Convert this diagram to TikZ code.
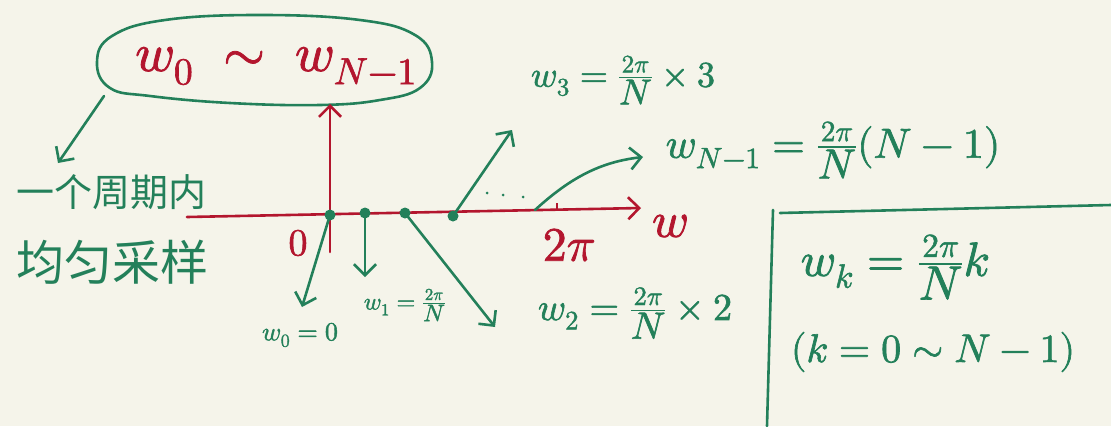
\documentclass[tikz,border=0pt]{standalone}
\usepackage{amsmath}
\usepackage{fontspec}
\usepackage{unicode-math}
\setmathfont{Latin Modern Math}[FakeBold=1.6]
\newfontfamily\cjk{Noto Sans CJK SC}
\usetikzlibrary{arrows.meta}
\definecolor{bg}{HTML}{F5F4EA}
\definecolor{gr}{HTML}{23805A}
\definecolor{rd}{HTML}{B3162E}
\newcommand{\fs}[1]{\fontsize{#1}{#1}\selectfont}
\newcommand{\tpn}{\frac{2\pi}{\textstyle N}}
\begin{document}
\begin{tikzpicture}[x=1pt,y=-1pt,
  gline/.style={draw=gr,line width=2.6pt,line cap=round,line join=round},
  garr/.style={gline,-{Straight Barb[length=11pt,width=22pt]}},
  rline/.style={draw=rd,line width=2.6pt,line cap=round},
  rarr/.style={rline,-{Straight Barb[length=11pt,width=22pt]}},
  dotn/.style={circle,fill=gr,inner sep=0pt,minimum size=11pt},
  small dot/.style={circle,fill=gr,inner sep=0pt,minimum size=3pt},
  glabel/.style={text=gr,inner sep=0pt},
  rlabel/.style={text=rd,inner sep=0pt}]
\fill[bg] (0,0) rectangle (1111,426);
\useasboundingbox (0,0) rectangle (1111,426);

% oval around the title
\draw[gline] plot[smooth cycle,tension=0.7] coordinates {(97,62) (112,36) (165,20) (260,15) (360,20) (415,35) (432,62) (420,88) (380,100) (320,105) (230,103) (150,96) (110,88)};
\node[rlabel] (ttl) at (276,66) {\fs{54}$w_0\;\sim\;w_{N-1}$};
\coordinate (e1) at (104,96);
\coordinate (t1) at (58,163);
\draw[garr] (e1) -- (t1);

% chinese text
\node[glabel,anchor=west] (cn1) at (16,192) {\fs{38}\cjk 一个周期内};
\node[glabel,anchor=west] (cn2) at (16,262) {\fs{48}\cjk 均匀采样};

% axes
\coordinate (axL) at (187,217);
\coordinate (axR) at (641,208);
\draw[rarr] (axL) -- (axR);
\coordinate (vB) at (330,252);
\coordinate (vT) at (330,104);
\draw[rarr] (vB) -- (vT);
\coordinate (tk1) at (557,203);
\coordinate (tk2) at (557,209);
\draw[rd,line width=1.5pt] (tk1) -- (tk2);

\node[rlabel] (zero) at (298,243) {\fs{38}$0$};
\node[rlabel] (twopi) at (569,245) {\fs{48}$2\pi$};
\node[rlabel] (wlab) at (670,226) {\fs{50}$w$};

% sample points
\node[dotn] (d0) at (330,215) {};
\node[dotn] (d1) at (365,213) {};
\node[dotn] (d2) at (405,213) {};
\node[dotn] (d3) at (453,216) {};
\node[small dot] (s1) at (487,193) {};
\node[small dot] (s2) at (503,195) {};
\node[small dot] (s3) at (523,197) {};

\coordinate (a0) at (302,307);
\coordinate (a1) at (365,277);
\coordinate (a2) at (495,327);
\coordinate (a3) at (512,130);
\coordinate (aNs) at (535,210);
\coordinate (aN) at (643,157);
\draw[garr] (d0.center) -- (a0);
\draw[garr] (d1.center) -- (a1);
\draw[garr] (d2.center) -- (a2);
\draw[garr] (d3.center) -- (a3);
\draw[garr] (aNs) .. controls (570,178) and (600,162) .. (aN);

% labels
\node[glabel] (l0) at (300,335) {\fs{26}$w_0=0$};
\node[glabel] (l1) at (405,305) {\fs{24}$w_1=\tpn$};
\node[glabel] (l2) at (635,313) {\fs{38}$w_2=\tpn\times 2$};
\node[glabel] (l3) at (623,80) {\fs{36}$w_3=\tpn\times 3$};
\node[glabel] (lN) at (833,150) {\fs{42}$w_{N-1}=\tpn(N-1)$};

% box
\coordinate (bxT) at (773,210);
\coordinate (bxB) at (767,426);
\coordinate (bhL) at (780,213);
\coordinate (bhR) at (1111,205);
\draw[gline] (bxT) -- (bxB);
\draw[gline] (bhL) -- (bhR);
\node[glabel] (wk) at (895,267) {\fs{48}$w_k=\tpn k$};
\node[glabel] (kr) at (933,352) {\fs{40}$(k=0\sim N-1)$};
\end{tikzpicture}
\end{document}
